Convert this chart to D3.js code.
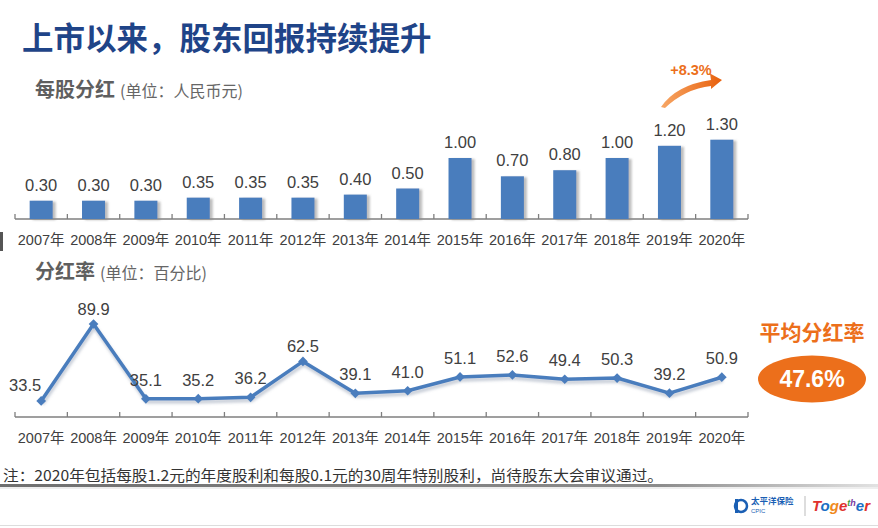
<!DOCTYPE html>
<html><head><meta charset="utf-8">
<script src="https://cdn.jsdelivr.net/npm/d3@7"></script>
<style>
html,body{margin:0;padding:0;background:#fff;}
svg{display:block;font-family:"Liberation Sans","Noto Sans CJK SC",sans-serif;}
</style></head><body>
<script>
const years = ["2007年","2008年","2009年","2010年","2011年","2012年","2013年","2014年","2015年","2016年","2017年","2018年","2019年","2020年"];
const dps = [0.30,0.30,0.30,0.35,0.35,0.35,0.40,0.50,1.00,0.70,0.80,1.00,1.20,1.30];
const dpsLabels = ["0.30","0.30","0.30","0.35","0.35","0.35","0.40","0.50","1.00","0.70","0.80","1.00","1.20","1.30"];
const payout = [33.5,89.9,35.1,35.2,36.2,62.5,39.1,41.0,51.1,52.6,49.4,50.3,39.2,50.9];
const payoutLabels = ["33.5","89.9","35.1","35.2","36.2","62.5","39.1","41.0","51.1","52.6","49.4","50.3","39.2","50.9"];
const title = "上市以来，股东回报持续提升";
const avgLabel = "平均分红率";
const avgValue = "47.6%";
const growth = "+8.3%";
const note = "注：2020年包括每股1.2元的年度股利和每股0.1元的30周年特别股利，尚待股东大会审议通过。";

const W = 878, H = 528;
const blue = "#4a7dbd", orange = "#ec6f1b", txt = "#404040";
const svg = d3.select("body").append("svg").attr("width", W).attr("height", H);
const defs = svg.append("defs");
const f1 = defs.append("filter").attr("id","bshadow").attr("x","-20%").attr("y","-20%").attr("width","160%").attr("height","140%");
f1.append("feDropShadow").attr("dx",3).attr("dy",1).attr("stdDeviation",1.1).attr("flood-color","#888").attr("flood-opacity",0.55);
const f2 = defs.append("filter").attr("id","lshadow").attr("x","-10%").attr("y","-20%").attr("width","120%").attr("height","160%");
f2.append("feDropShadow").attr("dx",1).attr("dy",3).attr("stdDeviation",1.5).attr("flood-color","#7a8aa0").attr("flood-opacity",0.45);
const ag = defs.append("linearGradient").attr("id","arrowg").attr("x1","0").attr("x2","1").attr("y1","0").attr("y2","0");
ag.append("stop").attr("offset","0").attr("stop-color","#f7a766");
ag.append("stop").attr("offset","1").attr("stop-color","#e8600c");
const lg = defs.append("linearGradient").attr("id","lineg").attr("x1","0").attr("x2","1");
lg.append("stop").attr("offset","0").attr("stop-color","#555");
lg.append("stop").attr("offset","0.75").attr("stop-color","#777");
lg.append("stop").attr("offset","1").attr("stop-color","#ddd");

// Title
svg.append("text").attr("x",22).attr("y",50).attr("font-size",31.5).attr("font-weight","bold")
  .attr("fill","#1f4488").attr("font-family","'Noto Sans CJK SC',sans-serif").text(title);

// Subtitles
function subtitle(x,y,main,unit){
  const t = svg.append("text").attr("x",x).attr("y",y).attr("font-family","'Noto Sans CJK SC',sans-serif");
  t.append("tspan").attr("font-size",20).attr("font-weight","bold").attr("fill","#5f5f5f").text(main);
  t.append("tspan").attr("font-size",16).attr("fill","#666").attr("dx",5).text(unit);
}
subtitle(35,97,"每股分红","(单位：人民币元)");
subtitle(35,279,"分红率","(单位：百分比)");

const x = d3.scaleBand().domain(years).range([15,748]).paddingInner(0.56).paddingOuter(0.28);
const xs = d3.scaleBand().domain(years).range([15,748]);

// ---- Bar chart ----
const yb = d3.scaleLinear().domain([0,1.5]).range([219,127.5]);
const barAxis = svg.append("g").attr("transform","translate(0,219)");
function drawAxis(g){
  g.append("line").attr("x1",15).attr("x2",748).attr("stroke","#7f7f7f").attr("stroke-width",1.3);
  const ticks = years.map((d,i)=>i).concat([years.length]);
  g.selectAll("line.t").data(ticks).join("line").attr("class","t")
    .attr("x1",i=>15+i*xs.step()).attr("x2",i=>15+i*xs.step()).attr("y1",-5).attr("y2",0)
    .attr("stroke","#7f7f7f").attr("stroke-width",1.3);
  g.selectAll("text").data(years).join("text")
    .attr("x",d=>xs(d)+xs.bandwidth()/2).attr("y",26).attr("text-anchor","middle")
    .attr("font-size",14.5).attr("fill",txt).text(d=>d);
}
drawAxis(barAxis);
svg.append("g").selectAll("rect").data(dps).join("rect")
  .attr("x",(d,i)=>x(years[i])).attr("width",x.bandwidth())
  .attr("y",d=>yb(d)).attr("height",d=>yb(0)-yb(d))
  .attr("fill",blue).attr("filter","url(#bshadow)");
svg.append("g").selectAll("text").data(dps).join("text")
  .attr("x",(d,i)=>xs(years[i])+xs.bandwidth()/2).attr("y",d=>yb(d)-10)
  .attr("text-anchor","middle").attr("font-size",16.5).attr("fill",txt)
  .text((d,i)=>dpsLabels[i]);

// Growth arrow
svg.append("path").attr("d","M661,107 Q676,85 711,80 L710,73.5 L722,80 L711,89 L711,86 Q685,89 665,108 Z")
  .attr("fill","url(#arrowg)");
svg.append("text").attr("x",691).attr("y",75).attr("text-anchor","middle").attr("font-size",14.5)
  .attr("font-weight","bold").attr("fill",orange).text(growth);

// ---- Line chart ----
const yl = d3.scaleLinear().domain([0,100]).range([446.7,310.2]);
const lineAxis = svg.append("g").attr("transform","translate(0,417)");
drawAxis(lineAxis);
const cx = i => xs(years[i])+xs.bandwidth()/2;
const line = d3.line().x((d,i)=>cx(i)).y(d=>yl(d));
svg.append("path").datum(payout).attr("d",line).attr("fill","none").attr("stroke",blue)
  .attr("stroke-width",3.5).attr("stroke-linejoin","round").attr("filter","url(#lshadow)");
svg.append("g").selectAll("path").data(payout).join("path")
  .attr("d",d3.symbol(d3.symbolDiamond2,60)())
  .attr("transform",(d,i)=>`translate(${cx(i)},${yl(d)})`).attr("fill",blue);
svg.append("g").selectAll("text").data(payout).join("text")
  .attr("x",(d,i)=>cx(i)+(i===0?-16:0))
  .attr("y",(d,i)=>yl(d)-(i===0?10:(d>60?9:13)))
  .attr("text-anchor","middle").attr("font-size",16.5).attr("fill",txt)
  .text((d,i)=>payoutLabels[i]);

// Average payout badge
svg.append("text").attr("x",812).attr("y",340).attr("text-anchor","middle").attr("font-size",21)
  .attr("font-weight","bold").attr("fill",orange).attr("font-family","'Noto Sans CJK SC',sans-serif").text(avgLabel);
svg.append("ellipse").attr("cx",812).attr("cy",379).attr("rx",54).attr("ry",23.5).attr("fill",orange);
svg.append("text").attr("x",812).attr("y",387).attr("text-anchor","middle").attr("font-size",23)
  .attr("font-weight","bold").attr("fill","#fff").text(avgValue);

// Footnote
svg.append("text").attr("x",3).attr("y",481).attr("font-size",15).attr("fill","#333")
  .attr("font-family","'Noto Sans CJK SC',sans-serif").attr("textLength",660).attr("lengthAdjust","spacingAndGlyphs").text(note);
svg.append("rect").attr("x",0).attr("y",484).attr("width",W).attr("height",4).attr("fill","url(#lineg)").attr("opacity",0.85);
svg.append("rect").attr("x",0).attr("y",487).attr("width",W).attr("height",2).attr("fill","#eee");
svg.append("line").attr("x1",0).attr("x2",W).attr("y1",525.5).attr("y2",525.5).attr("stroke","#ddd");

// left edge mark
svg.append("rect").attr("x",0).attr("y",232).attr("width",3).attr("height",19).attr("fill","#555");

// Logo
const lgG = svg.append("g");
lgG.append("circle").attr("cx",741).attr("cy",506).attr("r",6).attr("fill","none").attr("stroke","#1a5fb4").attr("stroke-width",2.5);
lgG.append("rect").attr("x",735).attr("y",499).attr("width",3).attr("height",14).attr("fill","#1a5fb4");
lgG.append("text").attr("x",751).attr("y",504).attr("font-size",8.5).attr("font-weight","bold").attr("fill","#1a5fb4")
  .attr("font-family","'Noto Sans CJK SC',sans-serif").text("太平洋保险");
lgG.append("text").attr("x",751).attr("y",513).attr("font-size",6).attr("fill","#1a5fb4").text("CPIC");
lgG.append("line").attr("x1",805).attr("x2",805).attr("y1",496).attr("y2",516).attr("stroke","#bbb");
const tog = [["T","#e0322d"],["o","#1a6fc4"],["g","#f08a1c"],["e","#e0322d"],["t","#3aa13b"],["h","#7a3aa0"],["e","#1a6fc4"],["r","#e0322d"]];
const tt = lgG.append("text").attr("x",812).attr("y",511).attr("font-size",15).attr("font-style","italic").attr("font-weight","bold");
tog.forEach(([c,col],i)=>{ tt.append("tspan").attr("fill",col).attr("font-size",i>=4&&i<=5?9:15).attr("dy",i===4?-5:(i===6?5:0)).text(c); });
</script>
</body></html>
